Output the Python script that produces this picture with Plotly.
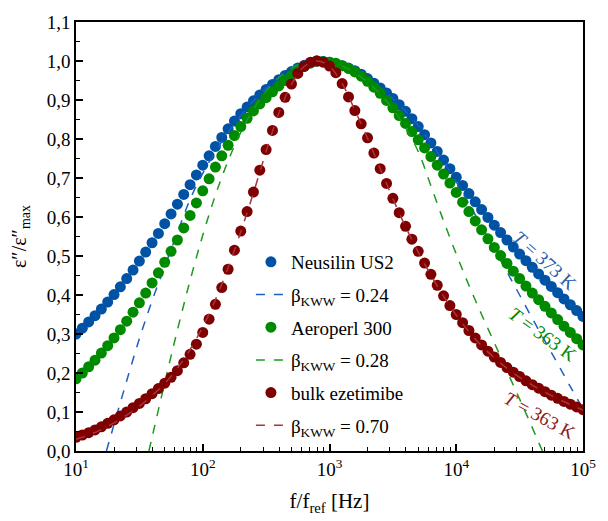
import plotly.graph_objects as go

# log10(f/fref) sampling of the measured spectra
log_f = [1.00,1.05,1.10,1.15,1.20,1.25,1.30,1.35,1.40,1.45,1.50,1.55,1.60,1.65,1.70,1.75,1.80,1.85,1.90,1.95,
         2.00,2.05,2.10,2.15,2.20,2.25,2.30,2.35,2.40,2.45,2.50,2.55,2.60,2.65,2.70,2.75,2.80,2.85,2.90,2.95,
         3.00,3.05,3.10,3.15,3.20,3.25,3.30,3.35,3.40,3.45,3.50,3.55,3.60,3.65,3.70,3.75,3.80,3.85,3.90,3.95,
         4.00,4.05,4.10,4.15,4.20,4.25,4.30,4.35,4.40,4.45,4.50,4.55,4.60,4.65,4.70,4.75,4.80,4.85,4.90,4.95,5.00]

neusilin = [0.300,0.315,0.331,0.347,0.364,0.382,0.401,0.421,0.442,0.464,0.487,0.510,0.534,0.558,0.583,0.608,0.633,0.658,0.683,0.708,
            0.733,0.757,0.781,0.804,0.826,0.846,0.865,0.882,0.898,0.913,0.927,0.940,0.952,0.963,0.973,0.982,0.989,0.995,1.000,0.999,
            0.997,0.993,0.988,0.982,0.975,0.966,0.955,0.943,0.931,0.918,0.904,0.888,0.871,0.852,0.832,0.811,0.790,0.768,0.746,0.724,
            0.702,0.681,0.660,0.639,0.619,0.599,0.579,0.560,0.541,0.523,0.505,0.488,0.471,0.454,0.438,0.422,0.406,0.390,0.375,0.360,0.345]

aeroperl = [0.185,0.200,0.216,0.233,0.251,0.270,0.290,0.311,0.333,0.356,0.380,0.405,0.431,0.457,0.484,0.512,0.541,0.572,0.604,0.636,
            0.667,0.698,0.728,0.757,0.784,0.809,0.832,0.853,0.872,0.890,0.906,0.921,0.936,0.950,0.963,0.975,0.986,0.995,1.000,0.999,
            0.997,0.994,0.988,0.981,0.972,0.961,0.948,0.933,0.917,0.899,0.880,0.860,0.840,0.819,0.798,0.777,0.755,0.733,0.710,0.687,
            0.663,0.638,0.614,0.590,0.567,0.544,0.522,0.501,0.481,0.461,0.442,0.423,0.405,0.388,0.371,0.354,0.337,0.320,0.304,0.288,0.272]

bulk = [0.035,0.041,0.047,0.054,0.062,0.071,0.080,0.090,0.100,0.111,0.122,0.134,0.147,0.160,0.174,0.189,0.206,0.226,0.248,0.274,
        0.304,0.338,0.376,0.419,0.466,0.515,0.564,0.614,0.664,0.720,0.773,0.822,0.868,0.907,0.941,0.968,0.986,0.997,1.000,0.997,
        0.987,0.970,0.942,0.908,0.873,0.839,0.803,0.764,0.724,0.686,0.648,0.611,0.576,0.543,0.512,0.482,0.453,0.425,0.398,0.373,
        0.350,0.329,0.309,0.290,0.272,0.256,0.241,0.227,0.214,0.202,0.191,0.180,0.170,0.161,0.152,0.143,0.135,0.127,0.120,0.113,0.106]

# KWW fits
fit1_logf = [1.24,1.30,1.40,1.50,1.60,1.70,1.80,1.90,2.00,2.10,2.20,2.30,2.40,2.50,2.60,2.70,2.80,2.90,
             3.00,3.10,3.20,3.30,3.40,3.50,3.60,3.70,3.80,3.90,4.00,4.10,4.20,4.30,4.40,4.50,4.60,4.70,4.80,4.90,5.00]
fit1 = [0.000,0.068,0.180,0.288,0.385,0.473,0.560,0.645,0.712,0.768,0.817,0.860,0.898,0.930,0.956,0.977,0.992,1.000,
        0.997,0.988,0.974,0.955,0.931,0.903,0.871,0.834,0.790,0.742,0.690,0.634,0.577,0.518,0.459,0.400,0.340,0.282,0.224,0.165,0.108]

fit2_logf = [1.575,1.60,1.70,1.80,1.90,2.00,2.10,2.20,2.30,2.40,2.50,2.60,2.70,2.80,2.90,
             3.00,3.10,3.20,3.30,3.40,3.50,3.60,3.70,3.80,3.90,4.00,4.10,4.20,4.30,4.40,4.50,4.60,4.65,4.68]
fit2 = [0.000,0.035,0.175,0.310,0.437,0.553,0.656,0.744,0.817,0.876,0.923,0.958,0.982,0.996,1.000,
        0.997,0.987,0.970,0.946,0.915,0.877,0.829,0.768,0.680,0.590,0.505,0.425,0.350,0.278,0.205,0.133,0.060,0.022,0.000]

fit3_logf = [1.0,1.1,1.2,1.3,1.4,1.5,1.6,1.7,1.8,1.9,2.0,2.1,2.2,2.3,2.4,2.5,2.6,2.7,2.8,2.9,
             3.0,3.1,3.2,3.3,3.4,3.5,3.6,3.7,3.8,3.9,4.0,4.1,4.2,4.3,4.4,4.5,4.6,4.7,4.8,4.9,5.0]
fit3 = [0.030,0.041,0.055,0.072,0.092,0.115,0.142,0.173,0.212,0.260,0.318,0.388,0.470,0.562,0.662,0.768,0.866,0.940,0.986,1.000,
        0.986,0.942,0.874,0.802,0.724,0.647,0.575,0.510,0.451,0.397,0.348,0.306,0.270,0.239,0.212,0.189,0.169,0.151,0.134,0.119,0.105]

x_tick_vals = [1e1, 1e2, 1e3, 1e4, 1e5]
x_tick_text = ["10<sup>1</sup>", "10<sup>2</sup>", "10<sup>3</sup>", "10<sup>4</sup>", "10<sup>5</sup>"]
x_minor_vals = [m * d for d in (10, 100, 1000, 10000) for m in (2, 3, 4, 5, 6, 7, 8, 9)]
y_tick_vals = [0.0,0.1,0.2,0.3,0.4,0.5,0.6,0.7,0.8,0.9,1.0,1.1]
y_tick_text = ["0,0","0,1","0,2","0,3","0,4","0,5","0,6","0,7","0,8","0,9","1,0","1,1"]
y_minor_vals = [0.05,0.15,0.25,0.35,0.45,0.55,0.65,0.75,0.85,0.95,1.05]

C_BLUE, C_GREEN, C_RED = "#0052A5", "#008A00", "#7E0000"
C_BLUE_L, C_GREEN_L, C_RED_L = "#1F5FC0", "#1E9A1E", "#A8343C"
FONT = "Liberation Serif"

def f_of(lx):
    return [10 ** v for v in lx]

fig = go.Figure()
series = [
    ("Neusilin US2", neusilin, C_BLUE, "β<sub>KWW</sub> = 0.24", fit1_logf, fit1, C_BLUE_L),
    ("Aeroperl 300", aeroperl, C_GREEN, "β<sub>KWW</sub> = 0.28", fit2_logf, fit2, C_GREEN_L),
    ("bulk ezetimibe", bulk, C_RED, "β<sub>KWW</sub> = 0.70", fit3_logf, fit3, C_RED_L),
]
for i, (pname, pvals, pcol, fname, fx, fy, fcol) in enumerate(series):
    fig.add_trace(go.Scatter(x=f_of(log_f), y=pvals, mode="markers", marker=dict(color=pcol, size=11),
                             name=pname, legendgroup="g%da" % i))
    fig.add_trace(go.Scatter(x=f_of(fx), y=fy, mode="lines",
                             line=dict(color=fcol, width=1.5, dash="dash", shape="spline"),
                             name=fname, legendgroup="g%db" % i))
# empty trace that carries the minor-tick overlay axes
fig.add_trace(go.Scatter(x=[None], y=[None], xaxis="x2", yaxis="y2", showlegend=False, hoverinfo="skip"))

fig.update_layout(
    width=608, height=521,
    margin=dict(l=76, r=12, t=20, b=69),
    plot_bgcolor="white", paper_bgcolor="white",
    font=dict(family=FONT, size=19, color="black"),
    xaxis=dict(type="log", range=[1, 5], tickvals=x_tick_vals, ticktext=x_tick_text,
               ticks="inside", ticklen=7, tickwidth=1.5, tickcolor="black",
               showline=True, linecolor="black", linewidth=1.5, mirror=True,
               showgrid=False, zeroline=False,
               title=dict(text="f/f<sub>ref</sub> [Hz]", font=dict(family=FONT, size=21, color="black")),
               tickfont=dict(family=FONT, size=19, color="black")),
    yaxis=dict(range=[0, 1.1], tickvals=y_tick_vals, ticktext=y_tick_text,
               ticks="inside", ticklen=7, tickwidth=1.5, tickcolor="black",
               showline=True, linecolor="black", linewidth=1.5, mirror=True,
               showgrid=False, zeroline=False,
               title=dict(text="ε\u2033/ε\u2033<sub>max</sub>", font=dict(family=FONT, size=20, color="black")),
               tickfont=dict(family=FONT, size=19, color="black")),
    xaxis2=dict(type="log", range=[1, 5], overlaying="x", anchor="y2", side="bottom",
                tickvals=x_minor_vals, ticks="inside", ticklen=4, tickwidth=1.2, tickcolor="black",
                showticklabels=False, showgrid=False, zeroline=False, showline=False),
    yaxis2=dict(range=[0, 1.1], overlaying="y", anchor="x2", side="left",
                tickvals=y_minor_vals, ticks="inside", ticklen=4, tickwidth=1.2, tickcolor="black",
                showticklabels=False, showgrid=False, zeroline=False, showline=False),
    legend=dict(x=0.345, y=0.485, xanchor="left", yanchor="top", bgcolor="rgba(0,0,0,0)",
                traceorder="grouped", tracegroupgap=5,
                font=dict(family=FONT, size=19, color="black")),
)

ann_font = dict(family=FONT, size=19)
fig.add_annotation(x=4.70, y=0.489, xref="x", yref="y", text="<i>T</i> = 373 K", showarrow=False,
                   textangle=42, font=dict(color="#2A5EA8", **ann_font))
fig.add_annotation(x=4.685, y=0.300, xref="x", yref="y", text="<i>T</i> = 363 K", showarrow=False,
                   textangle=36, font=dict(color=C_GREEN, **ann_font))
fig.add_annotation(x=4.66, y=0.092, xref="x", yref="y", text="<i>T</i> = 363 K", showarrow=False,
                   textangle=29, font=dict(color="#8E1A1A", **ann_font))

fig.write_html("out.html")
